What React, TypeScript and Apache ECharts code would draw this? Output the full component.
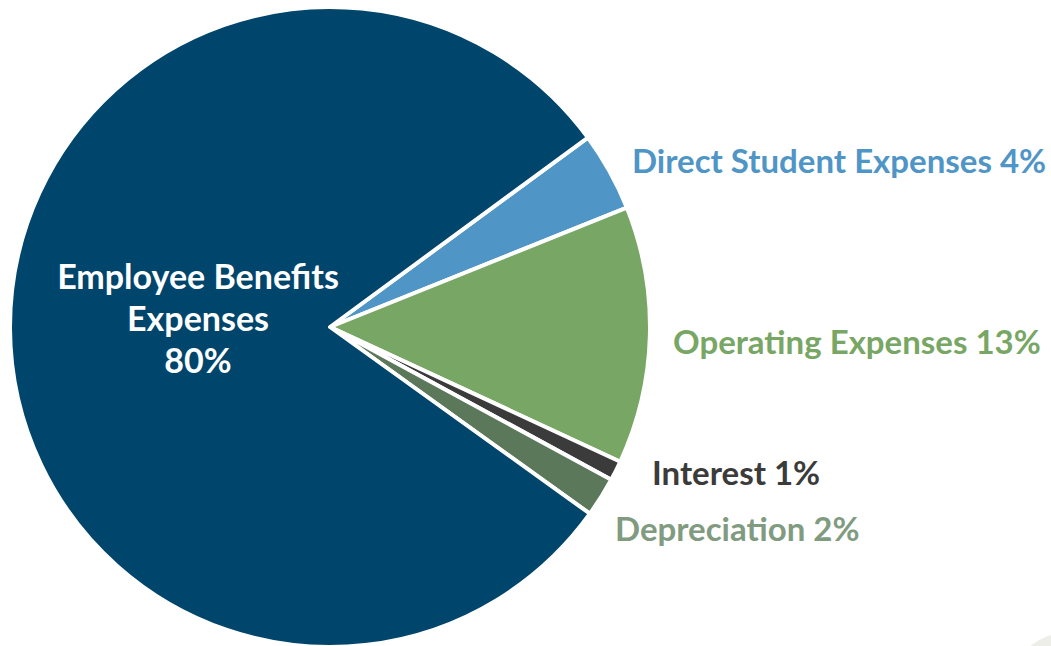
import React, { useEffect, useRef } from "react";
import * as echarts from "echarts";

const categories = [
  "Direct Student Expenses",
  "Operating Expenses",
  "Interest",
  "Depreciation",
  "Employee Benefits Expenses",
];
const values = [4, 13, 1, 2, 80];
const sliceColors = ["#4f95c6", "#78a664", "#3b3b3b", "#5b785b", "#00456b"];
const labelColors = ["#4f95c6", "#78a664", "#3b3b3b", "#809b80", "#ffffff"];

// label anchor positions (left edge / vertical middle), by data index
const labelPos: Record<number, { x: number; y: number; align: string }> = {
  0: { x: 632, y: 160, align: "left" },
  1: { x: 673, y: 341, align: "left" },
  2: { x: 652, y: 472, align: "left" },
  3: { x: 615, y: 528, align: "left" },
  4: { x: 198, y: 317, align: "center" },
};

export default function App() {
  const ref = useRef<HTMLDivElement>(null);
  useEffect(() => {
    if (!ref.current) return;
    const chart = echarts.init(ref.current, undefined, { renderer: "svg" });
    const data = categories.map((name, i) => ({
      name,
      value: values[i],
      itemStyle: { color: sliceColors[i] },
      label: {
        color: labelColors[i],
        position: i === 4 ? "inside" : "outside",
        formatter: i === 4 ? "Employee Benefits\nExpenses\n{c}%" : "{b} {c}%",
        fontSize: i === 4 ? 34 : 33,
        lineHeight: i === 4 ? 42 : undefined,
      },
    }));
    chart.setOption({
      animation: false,
      backgroundColor: "#ffffff",
      graphic: [
        {
          type: "circle",
          shape: { cx: 1070, cy: 695, r: 63 },
          style: { fill: "#eceee7" },
          z: -1,
        },
      ],
      series: [
        {
          type: "pie",
          center: [330, 327],
          radius: [0, 320],
          startAngle: 36.3,
          clockwise: true,
          avoidLabelOverlap: false,
          itemStyle: { borderColor: "#ffffff", borderWidth: 4 },
          emphasis: { disabled: true },
          labelLine: { show: false },
          label: {
            show: true,
            fontFamily: "Lato",
            fontWeight: "bold",
          },
          labelLayout: (params: any) => {
            const p = labelPos[params.dataIndex];
            return {
              x: p.x,
              y: p.y,
              align: p.align,
              verticalAlign: "middle",
              hideOverlap: false,
            };
          },
          data,
        },
      ],
    });
    return () => chart.dispose();
  }, []);
  return (
    <div
      ref={ref}
      style={{ position: "fixed", left: 0, top: 0, width: 1051, height: 646 }}
    />
  );
}
